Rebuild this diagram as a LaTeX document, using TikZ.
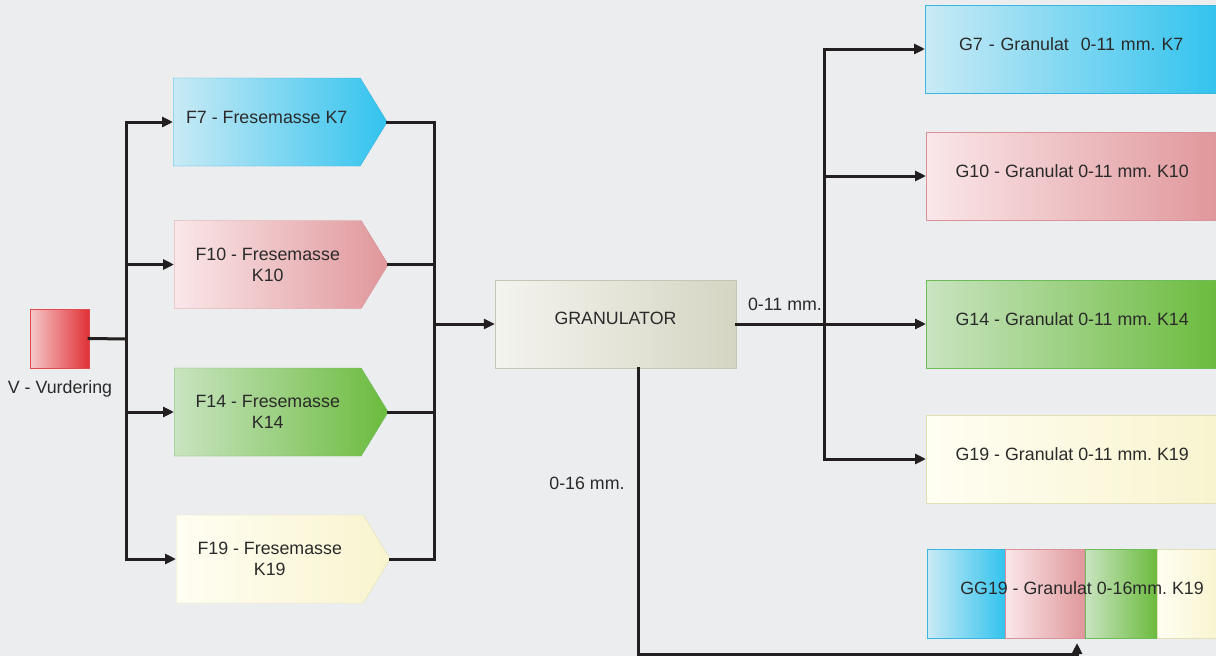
\documentclass[tikz,border=0pt]{standalone}
\usepackage{fontspec}
\setmainfont{Liberation Sans}
\usetikzlibrary{shapes.symbols,arrows.meta}
\frenchspacing

\definecolor{bgcol}{HTML}{ECEDEF}
\definecolor{linecol}{HTML}{231F20}
\definecolor{txtcol}{HTML}{2A2A2A}
\definecolor{blueL}{HTML}{C9EAF5}
\definecolor{blueR}{HTML}{32C3EE}
\definecolor{blueB}{HTML}{3BB6DF}
\definecolor{pinkL}{HTML}{FAE7E9}
\definecolor{pinkR}{HTML}{E0979B}
\definecolor{pinkB}{HTML}{D99299}
\definecolor{greenL}{HTML}{C9E4C1}
\definecolor{greenR}{HTML}{6BBB3D}
\definecolor{greenB}{HTML}{6CBC58}
\definecolor{yellowL}{HTML}{FFFEF2}
\definecolor{yellowR}{HTML}{F8F4CF}
\definecolor{yellowB}{HTML}{E2E0B4}
\definecolor{redL}{HTML}{F6C8CA}
\definecolor{redR}{HTML}{E03136}
\definecolor{redB}{HTML}{DE4A4E}
\definecolor{granL}{HTML}{F4F4EF}
\definecolor{granR}{HTML}{D5D5C3}
\definecolor{granB}{HTML}{C6C6B6}

\begin{document}
\begin{tikzpicture}[x=1pt,y=-1pt,
  every node/.style={font=\fontsize{17.8}{21}\selectfont, text=txtcol},
  fbox/.style={signal, signal to=east, signal pointer angle=117, minimum width=214pt,
    minimum height=88pt, inner sep=0pt, align=center, anchor=west},
  gbox/.style={rectangle, minimum width=292pt, minimum height=88pt, inner sep=0pt, anchor=west,
    text depth=9pt},
  flow/.style={line width=3pt, draw=linecol, line cap=rect, line join=miter},
  arr/.style={-{Triangle[length=11pt,width=10pt]}}]
  \useasboundingbox (0,0) rectangle (1216,656);
  \fill[bgcol] (0,0) rectangle (1216,656);

  % source
  \node[draw=redB, left color=redL, right color=redR, minimum width=59pt, minimum height=59pt,
    inner sep=0pt] (v) at (59.5,338.5) {};
  \node (vlbl) at (60,389) {V - Vurdering};

  % fresemasse
  \node[fbox, draw=blueB, left color=blueL, right color=blueR, text depth=9pt] (f7) at (173,122) {F7 - Fresemasse K7};
  \node[fbox, draw=pinkB, left color=pinkL, right color=pinkR] (f10) at (174,264.5) {F10 - Fresemasse\\K10};
  \node[fbox, draw=greenB, left color=greenL, right color=greenR] (f14) at (174,412) {F14 - Fresemasse\\K14};
  \node[fbox, draw=yellowB, left color=yellowL, right color=yellowR] (f19) at (176,559) {F19 - Fresemasse\\K19};

  % granulator
  \node[draw=granB, left color=granL, right color=granR, minimum width=241pt, minimum height=88pt,
    inner sep=0pt, text depth=11pt] (gran) at (615.5,324) {GRANULATOR};

  % granulat
  \node[gbox, draw=blueB, left color=blueL, right color=blueR, text width=290pt, align=center,
    xshift=-1pt] (g7) at (926,49) {G7 - Granulat\ \ 0-11 mm. K7};
  \node[gbox, draw=pinkB, left color=pinkL, right color=pinkR] (g10) at (926,176) {G10 - Granulat 0-11 mm. K10};
  \node[gbox, draw=greenB, left color=greenL, right color=greenR] (g14) at (926,324) {G14 - Granulat 0-11 mm. K14};
  \node[gbox, draw=yellowB, left color=yellowL, right color=yellowR] (g19) at (926,459) {G19 - Granulat 0-11 mm. K19};

  % mixed granulat
  \node[draw=blueB, left color=blueL, right color=blueR, minimum width=78pt, minimum height=89pt,
    inner sep=0pt, anchor=west] (gg19a) at (927,593.5) {};
  \node[draw=pinkB, left color=pinkL, right color=pinkR, minimum width=79pt, minimum height=89pt,
    inner sep=0pt, anchor=west] (gg19b) at (gg19a.east) {};
  \node[draw=greenB, left color=greenL, right color=greenR, minimum width=72pt, minimum height=89pt,
    inner sep=0pt, anchor=west] (gg19c) at (gg19b.east) {};
  \node[draw=yellowB, left color=yellowL, right color=yellowR, minimum width=62pt, minimum height=89pt,
    inner sep=0pt, anchor=west] (gg19d) at (gg19c.east) {};
  \node (gg19) at (1082,588) {GG19 - Granulat 0-16mm. K19};

  \node (lbl11) at (785,304) {0-11 mm.};
  \node (lbl16) at (587,483) {0-16 mm.};

  \coordinate (vsplit) at (126,339);
  \coordinate (fjoin) at (434,323);
  \coordinate (gsplit) at (824,323);
  \coordinate (gdrop) at (638,654);
  \coordinate (ggin) at (1077,643);

  % connectors
  \draw[flow] (v.east) -- (vsplit);
  \draw[flow] (vsplit |- f7.west) -- (vsplit |- f19.west);
  \foreach \n in {f7,f10,f14,f19}
    \draw[flow,arr] (vsplit |- \n.west) -- (\n.west);
  \foreach \n in {f7,f10,f14,f19}
    \draw[flow] (\n.east) -- (fjoin |- \n.east);
  \draw[flow] (fjoin |- f7.east) -- (fjoin |- f19.east);
  \draw[flow,arr] (fjoin |- gran.west) -- (gran.west);

  \draw[flow] (gran.east) -- (gsplit |- gran.east);
  \draw[flow] (gsplit |- g7.west) -- (gsplit |- g19.west);
  \foreach \n in {g7,g10,g14,g19}
    \draw[flow,arr] (gsplit |- \n.west) -- (\n.west);

  \draw[flow,arr] (gdrop |- gran.south) -- (gdrop) -| (ggin);
\end{tikzpicture}
\end{document}
